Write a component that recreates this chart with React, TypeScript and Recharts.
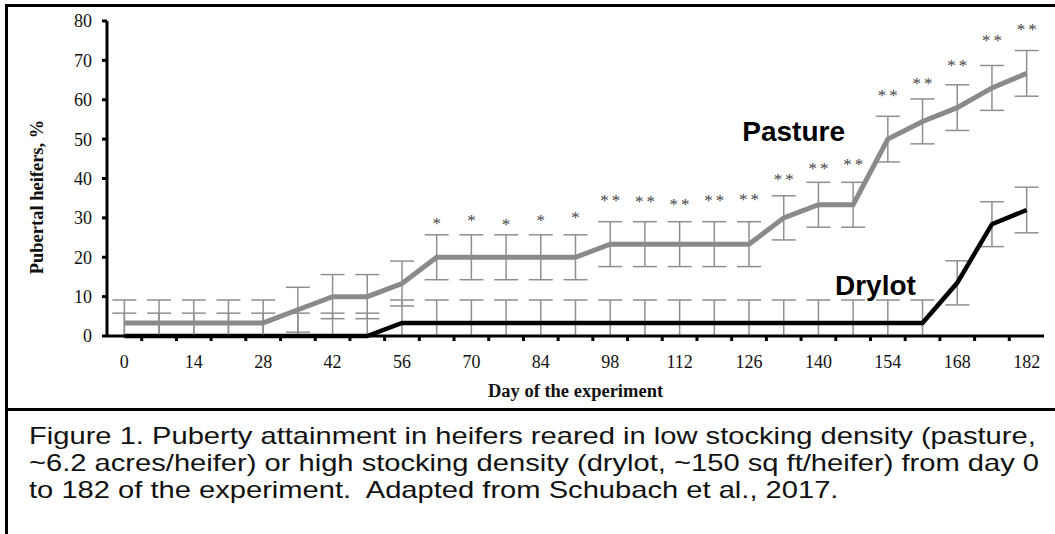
import { ErrorBar, LabelList, Line, LineChart, ReferenceDot, XAxis, YAxis } from "recharts";

const SERIF = "'Liberation Serif', 'Times New Roman', serif";
const SANS = "'Liberation Sans', Arial, sans-serif";

const days = [0, 7, 14, 21, 28, 35, 42, 49, 56, 63, 70, 77, 84, 91, 98, 105, 112, 119, 126, 133, 140, 147, 154, 161, 168, 175, 182];
const pasture = [3.33, 3.33, 3.33, 3.33, 3.33, 6.67, 10, 10, 13.33, 20, 20, 20, 20, 20, 23.33, 23.33, 23.33, 23.33, 23.33, 30, 33.33, 33.33, 50, 54.5, 58, 63, 66.7];
const pastureSE = [5.8, 5.8, 5.8, 5.8, 5.8, 5.7, 5.6, 5.6, 5.7, 5.7, 5.7, 5.7, 5.7, 5.7, 5.7, 5.7, 5.7, 5.7, 5.7, 5.6, 5.7, 5.7, 5.8, 5.7, 5.8, 5.7, 5.8];
const drylot = [0, 0, 0, 0, 0, 0, 0, 0, 3.33, 3.33, 3.33, 3.33, 3.33, 3.33, 3.33, 3.33, 3.33, 3.33, 3.33, 3.33, 3.33, 3.33, 3.33, 3.33, 13.5, 28.4, 32];
const drylotSE = [5.8, 5.8, 5.8, 5.8, 5.8, 5.8, 5.8, 5.8, 5.8, 5.8, 5.8, 5.8, 5.8, 5.8, 5.8, 5.8, 5.8, 5.8, 5.8, 5.8, 5.8, 5.8, 5.8, 5.8, 5.6, 5.7, 5.8];
const sigMarks = [null, null, null, null, null, null, null, null, null, "*", "*", "*", "*", "*", "**", "**", "**", "**", "**", "**", "**", "**", "**", "**", "**", "**", "**"];
const sigHeight = [null, null, null, null, null, null, null, null, null, 29.3, 29.9, 29.0, 30.0, 30.7, 35.0, 34.8, 34.1, 35.0, 35.4, 40.4, 43.2, 44.1, 61.6, 64.8, 69.4, 75.8, 78.5];

const dayLabels = [0, 14, 28, 42, 56, 70, 84, 98, 112, 126, 140, 154, 168, 182];
const minorTicks = [3.5, 10.5, 17.5, 24.5, 31.5, 38.5, 45.5, 52.5, 59.5, 66.5, 73.5, 80.5, 87.5, 94.5, 101.5, 108.5, 115.5, 122.5, 129.5, 136.5, 143.5, 150.5, 157.5, 164.5, 171.5, 178.5];
const yTicks = [0, 10, 20, 30, 40, 50, 60, 70, 80];

const seriesLabels = [
  { name: "Pasture", day: 135, value: 52 },
  { name: "Drylot", day: 151.5, value: 12.9 },
];

const captionLines = [
  "Figure 1. Puberty attainment in heifers reared in low stocking density (pasture,",
  "~6.2 acres/heifer) or high stocking density (drylot, ~150 sq ft/heifer) from day 0",
  "to 182 of the experiment.  Adapted from Schubach et al., 2017.",
];

const data = days.map((day, i) => ({
  day,
  pasture: pasture[i],
  pastureErr: [Math.min(pastureSE[i], pasture[i]), pastureSE[i]],
  drylot: drylot[i],
  drylotErr: [Math.min(drylotSE[i], drylot[i]), drylotSE[i]],
  sig: sigMarks[i],
  sigY: sigHeight[i],
}));

const allXTicks = [...dayLabels, ...minorTicks].sort((a, b) => a - b);

function DayTick({ x, y, payload }: any) {
  const v = payload.value;
  if (dayLabels.includes(v)) {
    return (
      <text x={x} y={y + 32} textAnchor="middle" fontSize={18} fontFamily={SERIF} fill="#111">
        {v}
      </text>
    );
  }
  return <line x1={x} x2={x} y1={y} y2={y + 5} stroke="#000" strokeWidth={3} />;
}

function SigLabel({ x, y, value }: any) {
  if (value == null || y == null || Number.isNaN(y)) return null;
  return (
    <text x={x + 1.5} y={y + 8} textAnchor="middle" fontSize={17} letterSpacing={3} fontFamily={SERIF} fill="#444">
      {value}
    </text>
  );
}

export default function App() {
  return (
    <div style={{ position: "absolute", left: 0, top: 0, width: 1055, height: 534, background: "#fff", overflow: "hidden" }}>
      <LineChart width={1055} height={408} data={data} margin={{ top: 21, right: 11, left: 0, bottom: 12 }}>
        <XAxis
          dataKey="day"
          type="number"
          domain={[-3.5, 185.5]}
          ticks={allXTicks}
          interval={0}
          tick={<DayTick />}
          tickLine={false}
          tickSize={0}
          tickMargin={0}
          height={60}
          axisLine={{ stroke: "#000", strokeWidth: 3 }}
          label={{
            content: ({ viewBox }: any) => (
              <text x={viewBox.x + viewBox.width / 2} y={viewBox.y + 61} textAnchor="middle" fontSize={18.5} fontWeight={700} fontFamily={SERIF} fill="#111">
                Day of the experiment
              </text>
            ),
          }}
        />
        <YAxis
          type="number"
          domain={[0, 80]}
          ticks={yTicks}
          interval={0}
          width={107}
          tickSize={5}
          tickMargin={10}
          tick={{ fontSize: 18, fontFamily: SERIF, fill: "#111" }}
          tickLine={{ stroke: "#000", strokeWidth: 3 }}
          axisLine={{ stroke: "#000", strokeWidth: 3 }}
          label={{
            content: ({ viewBox }: any) => (
              <text
                transform={`translate(${viewBox.x + 37}, ${viewBox.y + viewBox.height / 2 + 18.5}) rotate(-90)`}
                textAnchor="middle"
                dominantBaseline="central"
                fontSize={18.5}
                fontWeight={700}
                fontFamily={SERIF}
                fill="#111"
              >
                Pubertal heifers, %
              </text>
            ),
          }}
        />
        <Line type="linear" dataKey="drylot" stroke="#000" strokeWidth={4.5} dot={false} activeDot={false} isAnimationActive={false}>
          <ErrorBar dataKey="drylotErr" width={12} stroke="#8f8f8f" strokeWidth={1.5} direction="y" isAnimationActive={false} />
        </Line>
        <Line type="linear" dataKey="pasture" stroke="#8a8a8a" strokeWidth={5} dot={false} activeDot={false} isAnimationActive={false}>
          <ErrorBar dataKey="pastureErr" width={12} stroke="#8f8f8f" strokeWidth={1.5} direction="y" isAnimationActive={false} />
        </Line>
        <Line type="linear" dataKey="sigY" stroke="none" dot={false} activeDot={false} legendType="none" isAnimationActive={false}>
          <LabelList dataKey="sig" content={<SigLabel />} />
        </Line>
        {seriesLabels.map((s) => (
          <ReferenceDot
            key={s.name}
            x={s.day}
            y={s.value}
            r={0}
            fill="none"
            stroke="none"
            label={{ value: s.name, position: "center", fontSize: 28, fontWeight: 700, fontFamily: SANS, fill: "#000" }}
          />
        ))}
      </LineChart>
      <div style={{ position: "absolute", left: 5, top: 4, width: 1050, height: 3, background: "#000" }} />
      <div style={{ position: "absolute", left: 5, top: 4, width: 3, height: 530, background: "#000" }} />
      <div style={{ position: "absolute", left: 5, top: 408, width: 1050, height: 3, background: "#000" }} />
      <div
        style={{
          position: "absolute",
          left: 29,
          top: 423,
          fontFamily: SANS,
          fontSize: 23.4,
          lineHeight: "27px",
          color: "#111",
          whiteSpace: "pre",
          transform: "scaleX(1.245)",
          transformOrigin: "left top",
        }}
      >
        {captionLines.map((line) => (
          <div key={line}>{line}</div>
        ))}
      </div>
    </div>
  );
}
